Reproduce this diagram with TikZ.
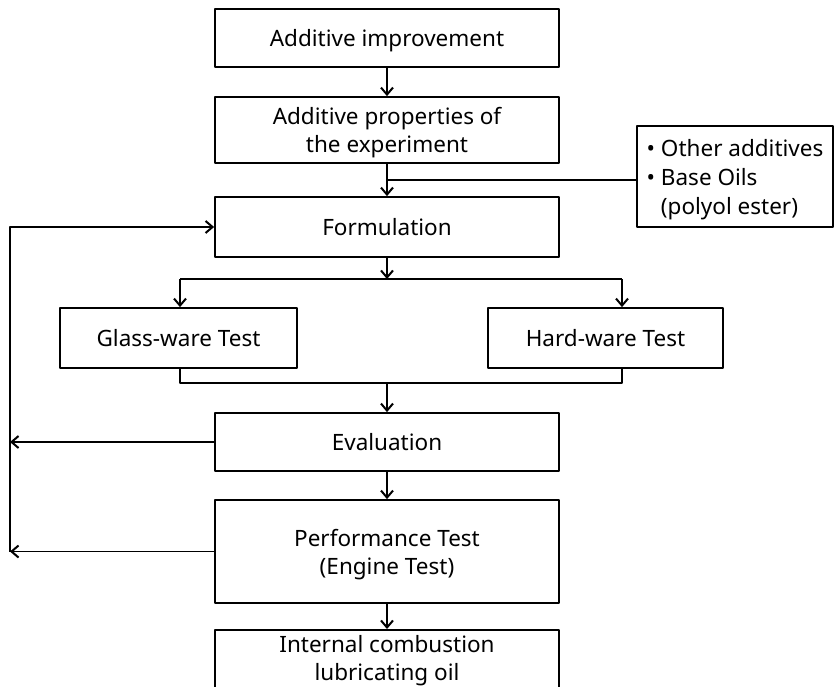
\documentclass[tikz,border=0pt]{standalone}
\usepackage{fontspec}
\setmainfont{Noto Sans}
\usetikzlibrary{arrows.meta}
\tikzset{
  box/.style={draw, line width=1.8pt, align=center, inner sep=0pt, text depth=0pt},
  link/.style={line width=1.3pt},
}
\begin{document}
\begin{tikzpicture}[x=1pt, y=-1pt, font=\fontsize{22.5}{28}\selectfont, line join=round, >={Straight Barb[length=7pt,width=12pt,line width=2pt]}]
	\useasboundingbox (0,0) rectangle (835,686);
	\clip (0,0) rectangle (835,686);
	% main column
	\node[box, minimum width=344pt, minimum height=58pt] (imp) at (387,38) {Additive improvement};
	\node[box, minimum width=344pt, minimum height=66pt] (prop) at (387,130) {Additive properties of\\the experiment};
	\node[box, minimum width=196pt, minimum height=101pt, align=left, font=\fontsize{22.5}{29}\selectfont] (side) at (735,176.5) {\textbullet{} Other additives\\\textbullet{} Base Oils\\\phantom{\textbullet{} }(polyol ester)};
	\node[box, minimum width=344pt, minimum height=60pt] (form) at (387,227) {Formulation};
	\node[box, minimum width=237pt, minimum height=60pt] (glass) at (178.5,338) {Glass-ware Test};
	\node[box, minimum width=235pt, minimum height=60pt] (hard) at (605.5,338) {Hard-ware Test};
	\node[box, minimum width=344pt, minimum height=58pt] (eval) at (387,442) {Evaluation};
	\node[box, minimum width=344pt, minimum height=103pt] (perf) at (387,551.5) {Performance Test\\(Engine Test)};
	\node[box, minimum width=344pt, anchor=north, inner ysep=5pt, text depth=45pt] (oil) at (387,629) {Internal combustion\\lubricating oil};
	\path
	(387,180) coordinate (join)
	(180,279) coordinate (sl)
	(622,279) coordinate (sr)
	(180,383) coordinate (ml)
	(622,383) coordinate (mr)
	(10,227) coordinate (rail)
	;
	% connectors
	\draw[link,->] (imp) -- (prop);
	\draw[link,->] (prop) -- (form);
	\draw[link] (side.west |- join) -- (join);
	\draw[link,->] (form.south) -- (form.south |- sl);
	\draw[link] (sl) -- (sr);
	\draw[link,->] (sl) -- (sl |- glass.north);
	\draw[link,->] (sr) -- (sr |- hard.north);
	\draw[link] (ml |- glass.south) -- (ml) -- (mr) -- (mr |- hard.south);
	\draw[link,->] (eval.north |- ml) -- (eval.north);
	\draw[link,->] (eval) -- (perf);
	\draw[link,->] (perf) -- (oil);
	% feedback
	\foreach \n in {eval,perf} \draw[link,->] (\n.west) -- (\n.west -| rail);
	\draw[link,->] (perf.west -| rail) -- (rail) -- (form.west);
\end{tikzpicture}
\end{document}
